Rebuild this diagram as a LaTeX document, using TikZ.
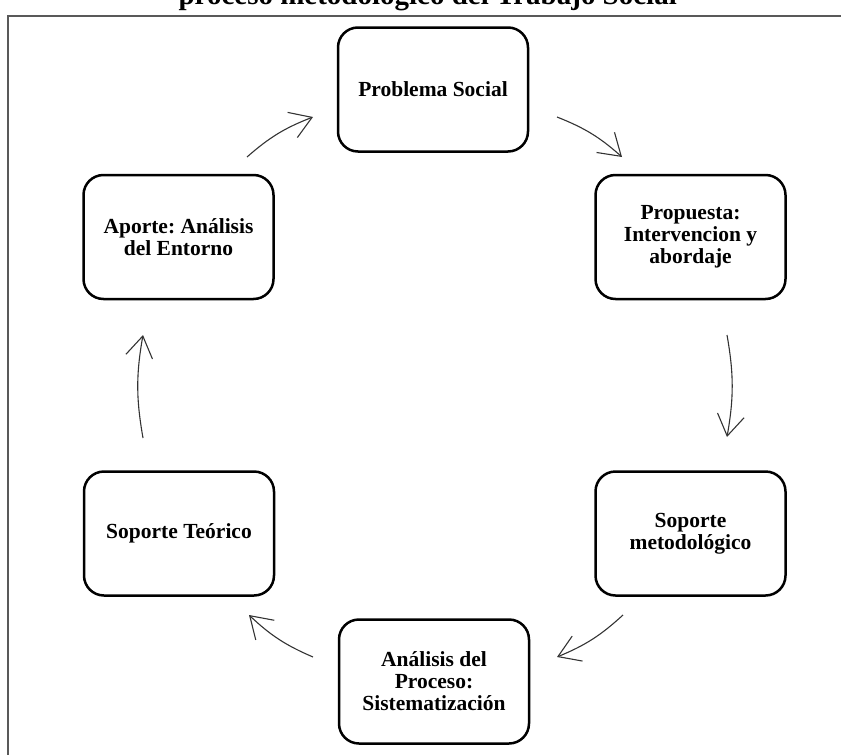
\documentclass[tikz,border=0pt]{standalone}
\usepackage{fontspec}
\setmainfont{Liberation Serif}
\usetikzlibrary{arrows.meta}
\frenchspacing
\tikzset{
  caja/.style={draw, line width=2.5pt, rounded corners=20pt, minimum width=190pt, minimum height=124pt,
    align=center, font=\bfseries\fontsize{21.5}{22}\selectfont},
  flecha/.style={black!80, line width=1.1pt, -{Straight Barb[length=21pt,width=27pt,line width=1.1pt]}, bend left=10}
}
\begin{document}
\begin{tikzpicture}[x=1pt,y=-1pt]
\useasboundingbox (0,0) rectangle (841,755);
\coordinate (c1) at (433,89.5);
\coordinate (c2) at (690.5,237);
\coordinate (c3) at (690.5,533.5);
\coordinate (c4) at (434,681.5);
\coordinate (c5) at (179,533.5);
\coordinate (c6) at (178.5,237);
\coordinate (f1) at (557,117);
\coordinate (f2) at (622,157);
\coordinate (f3) at (727,335);
\coordinate (f4) at (727,437);
\coordinate (f5) at (623,615);
\coordinate (f6) at (557,657);
\coordinate (f7) at (313,657);
\coordinate (f8) at (249,615);
\coordinate (f9) at (143,438);
\coordinate (f10) at (143,335);
\coordinate (f11) at (247,157);
\coordinate (f12) at (313,117);
\draw[black!65, line width=2pt] (8,755) -- (8,16) -- (841,16);
\node[anchor=base west, font=\bfseries\fontsize{29}{30}\selectfont] (titulo) at (175,4) {proceso metodológico del Trabajo Social};
\node[caja] (problema) at (c1) {Problema Social};
\node[caja] (propuesta) at (c2) {Propuesta:\\Intervencion y\\abordaje};
\node[caja] (metodo) at (c3) {Soporte\\metodológico};
\node[caja] (analisis) at (c4) {Análisis del\\Proceso:\\Sistematización};
\node[caja] (teorico) at (c5) {Soporte Teórico};
\node[caja] (aporte) at (c6) {Aporte: Análisis\\del Entorno};
\draw[flecha] (f1) to (f2);
\draw[flecha] (f3) to (f4);
\draw[flecha] (f5) to (f6);
\draw[flecha] (f7) to (f8);
\draw[flecha] (f9) to (f10);
\draw[flecha] (f11) to (f12);
\end{tikzpicture}
\end{document}
